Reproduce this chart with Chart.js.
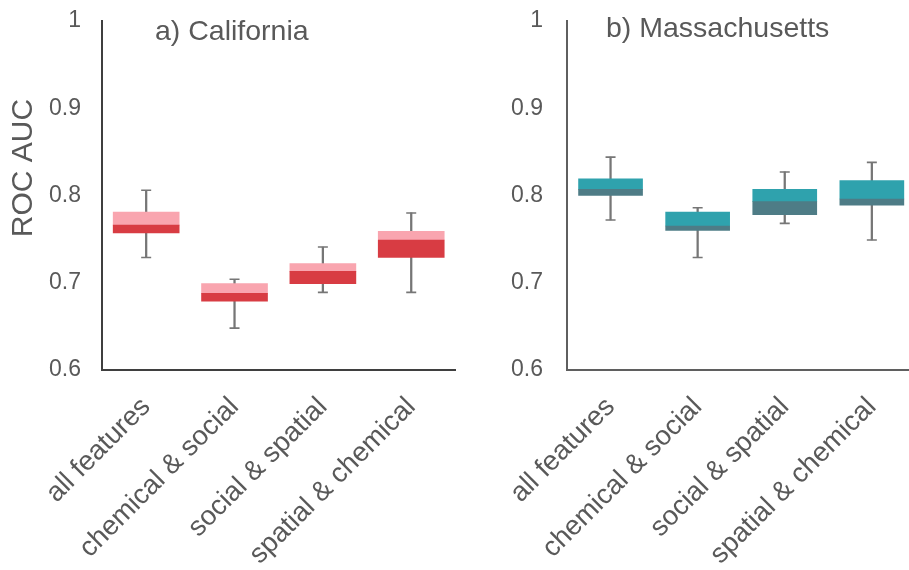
<!DOCTYPE html>
<html>
<head>
<meta charset="utf-8">
<script src="https://cdn.jsdelivr.net/npm/chart.js@4.4.1/dist/chart.umd.min.js"></script>
<style>
  html, body { margin: 0; padding: 0; background: #fff; overflow: hidden; }
  body { width: 909px; height: 570px; position: relative; }
  .panel { position: absolute; top: 0; }
</style>
</head>
<body>
<div class="panel" id="wrapA" style="left:0px;width:462px;height:570px;"><canvas id="chartA"></canvas></div>
<div class="panel" id="wrapB" style="left:462px;width:460px;height:570px;"><canvas id="chartB"></canvas></div>
<script>
// Feature sets compared in each state
const categories = ['all features', 'chemical & social', 'social & spatial', 'spatial & chemical'];
const yTicks = [0.6, 0.7, 0.8, 0.9, 1.0];

// California ROC AUC summary: whisker low, lower quartile, median, upper quartile, whisker high
const caMin    = [0.729, 0.648, 0.689, 0.689];
const caQ1     = [0.757, 0.679, 0.699, 0.729];
const caMedian = [0.766, 0.688, 0.713, 0.749];
const caQ3     = [0.781, 0.699, 0.722, 0.759];
const caMax    = [0.806, 0.704, 0.741, 0.780];

// Massachusetts ROC AUC summary
const maMin    = [0.772, 0.729, 0.768, 0.749];
const maQ1     = [0.800, 0.760, 0.778, 0.789];
const maMedian = [0.807, 0.765, 0.793, 0.796];
const maQ3     = [0.819, 0.781, 0.807, 0.817];
const maMax    = [0.844, 0.786, 0.827, 0.838];

const FONT = '"Liberation Sans", Arial, Helvetica, sans-serif';
const TEXT = '#595959';
const WHISKER = '#767676';

function boxDatasets(mins, q1, med, q3, maxs, lowColor, highColor, boxWidth) {
  return [
    { // whisker stem
      type: 'bar', data: mins.map((v, i) => [v, maxs[i]]),
      backgroundColor: WHISKER, barThickness: 1.6, grouped: false, order: 5
    },
    { // lower half of the box
      type: 'bar', data: q1.map((v, i) => [v, med[i]]),
      backgroundColor: lowColor, barThickness: boxWidth, grouped: false, order: 2
    },
    { // upper half of the box
      type: 'bar', data: med.map((v, i) => [v, q3[i]]),
      backgroundColor: highColor, barThickness: boxWidth, grouped: false, order: 2
    },
    { // whisker caps
      type: 'line', data: maxs, showLine: false, pointStyle: 'line',
      pointRadius: 5, pointHoverRadius: 5, borderColor: WHISKER, borderWidth: 1.6, order: 0
    },
    {
      type: 'line', data: mins, showLine: false, pointStyle: 'line',
      pointRadius: 5, pointHoverRadius: 5, borderColor: WHISKER, borderWidth: 1.6, order: 0
    }
  ];
}

// Panel heading and optional axis title drawn onto the chart
function labelsPlugin(title, titleX, titleY, yTitle) {
  return {
    id: 'panelLabels',
    afterDraw(chart) {
      const ctx = chart.ctx;
      ctx.save();
      ctx.fillStyle = TEXT;
      ctx.font = '28.5px ' + FONT;
      ctx.textAlign = 'left';
      ctx.textBaseline = 'alphabetic';
      ctx.fillText(title, titleX, titleY);
      if (yTitle) {
        ctx.translate(24, 168);
        ctx.rotate(-Math.PI / 2);
        ctx.textAlign = 'center';
        ctx.textBaseline = 'middle';
        ctx.font = '30px ' + FONT;
        ctx.fillText(yTitle, 0, 0);
      }
      ctx.restore();
    }
  };
}

function makeChart(id, datasets, yAxisWidth, tickPad, axisColor, plugin) {
  return new Chart(document.getElementById(id), {
    data: { labels: categories, datasets: datasets },
    options: {
      responsive: true,
      maintainAspectRatio: false,
      animation: false,
      events: [],
      layout: { padding: { top: 21, right: 0, left: 0, bottom: 0 } },
      plugins: { legend: { display: false }, tooltip: { enabled: false }, title: { display: false } },
      scales: {
        x: {
          type: 'category',
          offset: true,
          grid: { display: false, drawTicks: false },
          border: { display: true, color: axisColor, width: 2 },
          ticks: {
            color: TEXT, font: { family: FONT, size: 27.5 },
            minRotation: 45, maxRotation: 45, padding: 21, autoSkip: false
          },
          afterFit(scale) { scale.height = 200; scale.paddingLeft = 0; scale.paddingRight = 0; }
        },
        y: {
          min: yTicks[0], max: yTicks[yTicks.length - 1],
          grid: { display: false, drawTicks: false },
          border: { display: true, color: axisColor, width: 2 },
          afterBuildTicks(scale) { scale.ticks = yTicks.map(v => ({ value: v })); },
          ticks: {
            color: TEXT, font: { family: FONT, size: 23 }, padding: tickPad,
            callback: v => String(+(+v).toFixed(1))
          },
          afterFit(scale) { scale.width = yAxisWidth; scale.paddingTop = 0; scale.paddingBottom = 0; }
        }
      }
    },
    plugins: [plugin]
  });
}

makeChart('chartA',
  boxDatasets(caMin, caQ1, caMedian, caQ3, caMax, '#d83c43', '#f9a5af', 66),
  102, 21, '#3f3f3f',
  labelsPlugin('a) California', 155, 40, 'ROC AUC'));

makeChart('chartB',
  boxDatasets(maMin, maQ1, maMedian, maQ3, maMax, '#4e7c86', '#2fa2ad', 64),
  105, 24, '#5f5f5f',
  labelsPlugin('b) Massachusetts', 144, 37, null));
</script>
</body>
</html>
